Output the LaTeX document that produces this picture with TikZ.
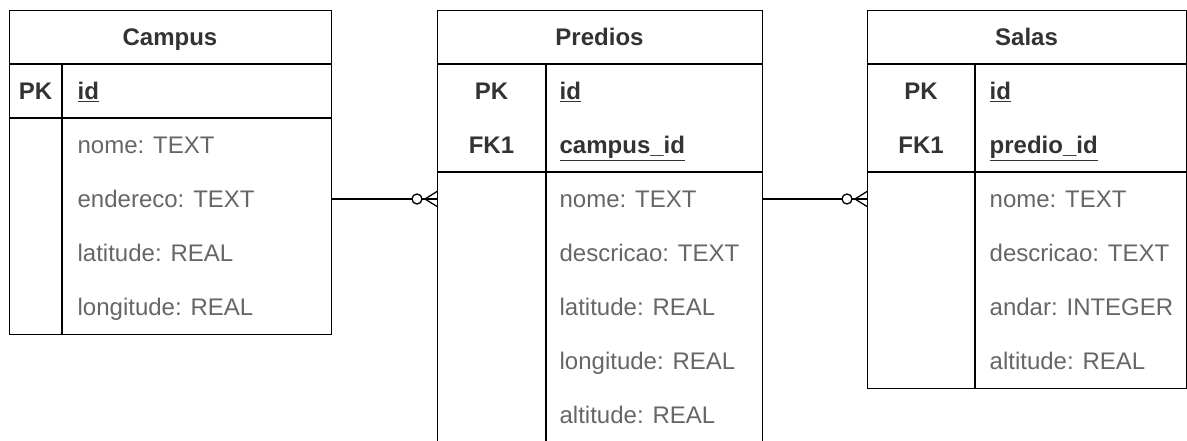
\documentclass[tikz,border=0pt]{standalone}
\usepackage{fontspec}
\setmainfont{Liberation Sans}
\definecolor{hdr}{HTML}{333333}
\definecolor{fld}{HTML}{666666}
\begin{document}
\begin{tikzpicture}[x=1pt,y=-1pt,line width=1.3pt,
  tbl/.style={draw,rectangle,inner sep=0pt,anchor=north west},
  txt/.style={inner xsep=0pt,inner ysep=0pt,text height=17pt,text depth=0pt,
              font=\fontsize{24}{28}\selectfont},
  head/.style={txt,font=\fontsize{24}{28}\selectfont\bfseries,text=hdr},
  keycol/.style={txt,font=\fontsize{24}{28}\selectfont\bfseries,text=hdr},
  keyname/.style={txt,anchor=west,font=\fontsize{24}{28}\selectfont\bfseries,text=hdr},
  field/.style={txt,anchor=west,text=fld},
  foot/.style={line width=1.3pt}]
\useasboundingbox (0,0) rectangle (1187,440);

% ---------- Campus ----------
\node[tbl,minimum width=322pt,minimum height=324pt] (campus) at (9,10) {};
\draw (9,64) -- (331,64) (9,118) -- (331,118) (62,64) -- (62,334);
\node[head] (campusT) at (170,37) {Campus};
\node[keycol] (campusPK) at (35.5,91) {PK};
\node[keyname] (campusId) at (77,91) {\underline{id}};
\foreach \t [count=\i from 0] in {nome: TEXT,endereco: TEXT,latitude: REAL,longitude: REAL}
  \node[field] (campusF\i) at (77,145+54*\i) {\t};

% ---------- Predios ----------
\node[tbl,minimum width=325pt,minimum height=432pt] (predios) at (437,10) {};
\draw (437,64) -- (762,64) (437,172) -- (762,172) (546,64) -- (546,442);
\node[head] (prediosT) at (599.5,37) {Predios};
\node[keycol] (prediosPK) at (491.5,91) {PK};
\node[keycol] (prediosFK) at (491.5,145) {FK1};
\node[keyname] (prediosId) at (559,91) {\underline{id}};
\node[keyname] (prediosCid) at (559,145) {\underline{campus\_id}};
\foreach \t [count=\i from 0] in {nome: TEXT,descricao: TEXT,latitude: REAL,longitude: REAL,altitude: REAL}
  \node[field] (prediosF\i) at (559,199+54*\i) {\t};

% ---------- Salas ----------
\node[tbl,minimum width=319pt,minimum height=378pt] (salas) at (867,10) {};
\draw (867,64) -- (1186,64) (867,172) -- (1186,172) (975,64) -- (975,388);
\node[head] (salasT) at (1026.5,37) {Salas};
\node[keycol] (salasPK) at (921,91) {PK};
\node[keycol] (salasFK) at (921,145) {FK1};
\node[keyname] (salasId) at (989,91) {\underline{id}};
\node[keyname] (salasPid) at (989,145) {\underline{predio\_id}};
\foreach \t [count=\i from 0] in {nome: TEXT,descricao: TEXT,andar: INTEGER,altitude: REAL}
  \node[field] (salasF\i) at (989,199+54*\i) {\t};

% ---------- relationships (one to zero-or-many) ----------
\coordinate (campusR) at (campus.east |- 0,199);
\coordinate (prediosL) at (predios.west |- 0,199);
\coordinate (prediosR) at (predios.east |- 0,199);
\coordinate (salasL) at (salas.west |- 0,199);

\draw (campusR) -- (prediosL);
\draw[foot,fill=white] ([xshift=-20pt]prediosL) circle (5pt);
\draw[foot] ([xshift=-12pt]prediosL) -- ([yshift=-7.5pt]prediosL)
            ([xshift=-12pt]prediosL) -- ([yshift=7.5pt]prediosL);

\draw (prediosR) -- (salasL);
\draw[foot,fill=white] ([xshift=-20pt]salasL) circle (5pt);
\draw[foot] ([xshift=-12pt]salasL) -- ([yshift=-7.5pt]salasL)
            ([xshift=-12pt]salasL) -- ([yshift=7.5pt]salasL);
\end{tikzpicture}
\end{document}
